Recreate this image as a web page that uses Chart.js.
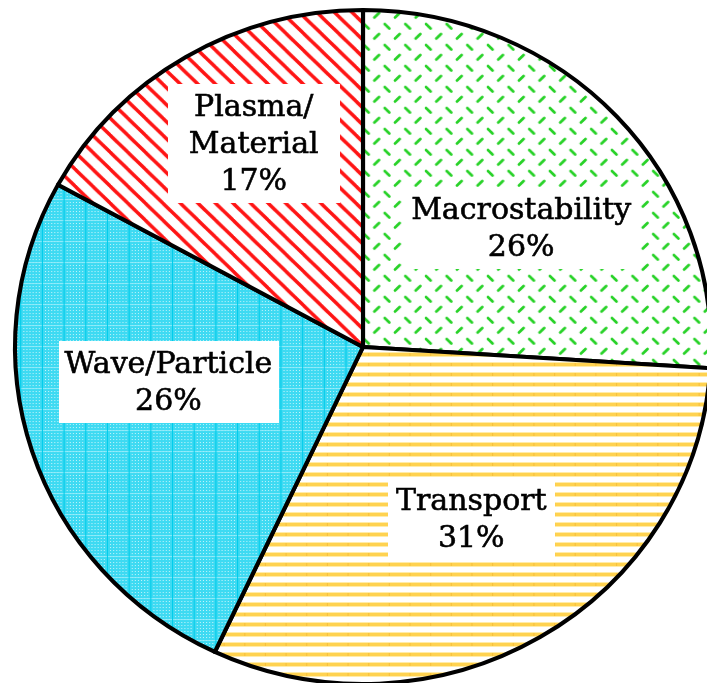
<!DOCTYPE html>
<html>
<head>
<meta charset="utf-8">
<script src="https://cdn.jsdelivr.net/npm/chart.js@4"></script>
<style>
  html, body { margin: 0; padding: 0; background: #fff; overflow: hidden; }
  #wrap { position: relative; width: 707px; height: 690px; }
</style>
</head>
<body>
<div id="wrap"><canvas id="c" width="707" height="690"></canvas></div>
<script>
// Research areas and their shares (percent)
const categories = ['Macrostability', 'Transport', 'Wave/Particle', 'Plasma/Material'];
const shares = [26, 31, 26, 17];
const labelLines = [['Macrostability'], ['Transport'], ['Wave/Particle'], ['Plasma/', 'Material']];

// ---- hatch fills ----
function makeTile(w, h, draw) {
  const c = document.createElement('canvas');
  c.width = w; c.height = h;
  draw(c.getContext('2d'), w, h);
  return c;
}
function seg(g, x1, y1, x2, y2) { g.beginPath(); g.moveTo(x1, y1); g.lineTo(x2, y2); g.stroke(); }

const greenDashes = makeTile(20, 21, (g, w, h) => {
  g.fillStyle = '#fff'; g.fillRect(0, 0, w, h);
  g.strokeStyle = 'rgb(40,210,40)'; g.lineWidth = 2.6; g.lineCap = 'round';
  seg(g, 4, 3, 8.5, 7.5);      // "\"
  seg(g, 14, 17.5, 18.5, 13);  // "/"
});
const goldLines = makeTile(20, 10, (g, w, h) => {
  g.fillStyle = '#fff'; g.fillRect(0, 0, w, h);
  g.fillStyle = 'rgb(255,236,170)'; g.fillRect(0, 2, w, 5);
  g.fillStyle = 'rgb(255,210,80)'; g.fillRect(0, 3, w, 3);
  g.fillStyle = 'rgb(248,192,60)'; g.fillRect(8, 3, 1, 3);
});
const cyanGrid = makeTile(21, 21, (g, w, h) => {
  g.fillStyle = 'rgb(62,218,242)'; g.fillRect(0, 0, w, h);
  g.fillStyle = 'rgba(255,255,255,0.7)';
  for (let x = 0; x < w; x += 3) for (let y = 0; y < h; y += 3) g.fillRect(x + 1, y + 1, 1, 1);
  g.fillStyle = 'rgba(150,236,250,0.8)'; g.fillRect(0, 10, w, 1);
  g.fillStyle = 'rgb(0,205,235)'; g.fillRect(10, 0, 1, h);
});
const redStripes = makeTile(17, 17, (g, w, h) => {
  g.fillStyle = '#fff'; g.fillRect(0, 0, w, h);
  g.strokeStyle = 'rgb(255,20,20)'; g.lineWidth = 3.4;
  for (let k = -1; k <= 1; k++) seg(g, k * w - 2, -2, k * w + w + 2, h + 2);
});

const canvas = document.getElementById('c');
const ctx = canvas.getContext('2d');
const fills = [greenDashes, goldLines, cyanGrid, redStripes].map(t => ctx.createPattern(t, 'repeat'));

// the pie is drawn slightly wider than tall
const stretchX = 1.0326;

const ovalStretch = {
  id: 'ovalStretch',
  beforeDatasetsDraw(chart) {
    const a = chart.getDatasetMeta(0).data[0];
    const c = chart.ctx;
    c.save();
    c.translate(a.x, 0); c.scale(stretchX, 1); c.translate(-a.x, 0);
  },
  afterDatasetsDraw(chart) { chart.ctx.restore(); }
};

const boxedLabels = {
  id: 'boxedLabels',
  afterDraw(chart, args, o) {
    const c = chart.ctx;
    const meta = chart.getDatasetMeta(0);
    c.save();
    c.font = o.font;
    c.textAlign = 'center';
    c.textBaseline = 'alphabetic';
    c.lineWidth = o.weight;
    c.strokeStyle = '#000';
    meta.data.forEach((arc, i) => {
      const mid = (arc.startAngle + arc.endAngle) / 2;
      const r = arc.outerRadius * o.radial;
      const x = arc.x + Math.cos(mid) * r * stretchX + o.nudge[i][0];
      const y = arc.y + Math.sin(mid) * r + o.nudge[i][1];
      const lines = [...labelLines[i], shares[i] + '%'];
      const w = Math.max(...lines.map(t => c.measureText(t).width)) + 2 * o.padX[i];
      const h = lines.length * o.lineHeight + 2 * o.padY;
      c.fillStyle = '#fff';
      c.fillRect(Math.round(x - w / 2), Math.round(y - h / 2), Math.round(w), Math.round(h));
      c.fillStyle = '#000';
      lines.forEach((t, k) => {
        const ty = y - h / 2 + o.padY + o.lineHeight * (k + 1) - o.descent;
        c.fillText(t, x, ty);
        c.strokeText(t, x, ty);
      });
    });
    c.restore();
  }
};

new Chart(ctx, {
  type: 'pie',
  data: {
    labels: categories,
    datasets: [{
      data: shares,
      backgroundColor: fills,
      borderColor: '#000',
      borderWidth: 4,
      borderJoinStyle: 'round',
      radius: 337,
      hoverOffset: 0
    }]
  },
  options: {
    responsive: false,
    animation: false,
    devicePixelRatio: 1,
    layout: { padding: { left: 19, right: 0, top: 10, bottom: 6 } },
    events: [],
    plugins: {
      legend: { display: false },
      tooltip: { enabled: false },
      boxedLabels: {
        font: '30px "DejaVu Serif"',
        weight: 0.6,
        radial: 0.6,
        lineHeight: 37,
        padX: [8, 8, 6, 21],
        padY: 4,
        descent: 9,
        nudge: [[6, 19], [2, -2], [4, -27], [-3, -29]]
      }
    }
  },
  plugins: [ovalStretch, boxedLabels]
});
</script>
</body>
</html>
